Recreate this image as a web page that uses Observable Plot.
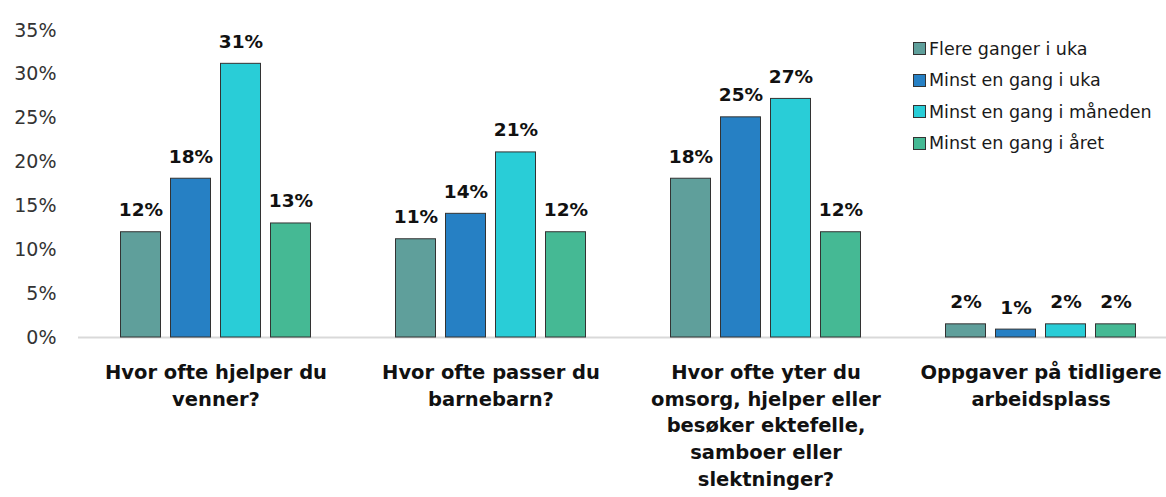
<!DOCTYPE html>
<html>
<head>
<meta charset="utf-8">
<script src="https://cdn.jsdelivr.net/npm/d3@7"></script>
<script src="https://cdn.jsdelivr.net/npm/@observablehq/plot@0.6"></script>
<style>
  html, body { margin: 0; padding: 0; background: #fff; }
  #wrap { position: relative; width: 1166px; height: 497px; overflow: hidden; font-family: "DejaVu Sans", sans-serif; }
  #legend { position: absolute; left: 913px; top: 33px; font-size: 17.5px; color: #1a1a1a; }
  .item { display: flex; align-items: center; height: 31.5px; white-space: nowrap; }
  .sw { width: 11px; height: 11px; border: 1px solid #333; margin-right: 3px; flex: none; }
</style>
</head>
<body>
<div id="wrap"><div id="legend"></div></div>
<script>
const groups = [
  "Hvor ofte hjelper du venner?",
  "Hvor ofte passer du barnebarn?",
  "Hvor ofte yter du omsorg, hjelper eller besøker ektefelle, samboer eller slektninger?",
  "Oppgaver på tidligere arbeidsplass"
];
const groupLabels = [
  "Hvor ofte hjelper du\nvenner?",
  "Hvor ofte passer du\nbarnebarn?",
  "Hvor ofte yter du\nomsorg, hjelper eller\nbesøker ektefelle,\nsamboer eller\nslektninger?",
  "Oppgaver på tidligere\narbeidsplass"
];
const series = ["Flere ganger i uka", "Minst en gang i uka", "Minst en gang i måneden", "Minst en gang i året"];
const colors = ["#5f9f9b", "#2680c4", "#29cdd7", "#45b994"];
const flereGangerIUka = [12.0, 11.2, 18.1, 1.5];
const minstEnGangIUka = [18.1, 14.1, 25.1, 0.9];
const minstEnGangIManeden = [31.2, 21.1, 27.2, 1.5];
const minstEnGangIAret = [13.0, 12.0, 12.0, 1.5];
const yTicks = [0, 5, 10, 15, 20, 25, 30, 35];

const seriesValues = [flereGangerIUka, minstEnGangIUka, minstEnGangIManeden, minstEnGangIAret];
const rows = [];
groups.forEach((g, gi) => {
  series.forEach((s, si) => {
    rows.push({group: g, series: s, value: seriesValues[si][gi]});
  });
});
const labelOf = new Map(groups.map((g, i) => [g, groupLabels[i]]));

const chart = Plot.plot({
  width: 1166,
  height: 497,
  marginTop: 30,
  marginBottom: 160,
  marginLeft: 77.5,
  marginRight: -11.5,
  style: {fontFamily: "DejaVu Sans, sans-serif", background: "#fff", color: "#1a1a1a"},
  fx: {domain: groups, padding: 0, axis: null},
  x: {domain: series, paddingInner: 0.2, paddingOuter: 0.85, axis: null},
  y: {domain: [0, 35], axis: null},
  color: {domain: series, range: colors},
  marks: [
    Plot.axisY({ticks: yTicks, tickSize: 0, tickPadding: 22, tickFormat: d => d + "%", fontSize: 19, fill: "#333", label: null}),
    Plot.axisFx({anchor: "bottom", tickSize: 0, tickPadding: 22, tickFormat: d => labelOf.get(d), fontSize: 19.5, fontWeight: "bold", lineHeight: 1.38, fill: "#111", label: null}),
    Plot.ruleY([0], {stroke: "#d9d9d9", strokeWidth: 2}),
    Plot.barY(rows, {fx: "group", x: "series", y: "value", fill: "series", stroke: "#333", strokeWidth: 1}),
    Plot.text(rows, {fx: "group", x: "series", y: "value", text: d => Math.round(d.value) + "%", lineAnchor: "bottom", dy: -16, fontSize: 18.5, fontWeight: "bold", fill: "#111"})
  ]
});
document.getElementById("wrap").prepend(chart);

const legend = document.getElementById("legend");
series.forEach((s, i) => {
  const item = document.createElement("div");
  item.className = "item";
  const sw = document.createElement("span");
  sw.className = "sw";
  sw.style.background = colors[i];
  const t = document.createElement("span");
  t.textContent = s;
  item.append(sw, t);
  legend.append(item);
});
</script>
</body>
</html>
